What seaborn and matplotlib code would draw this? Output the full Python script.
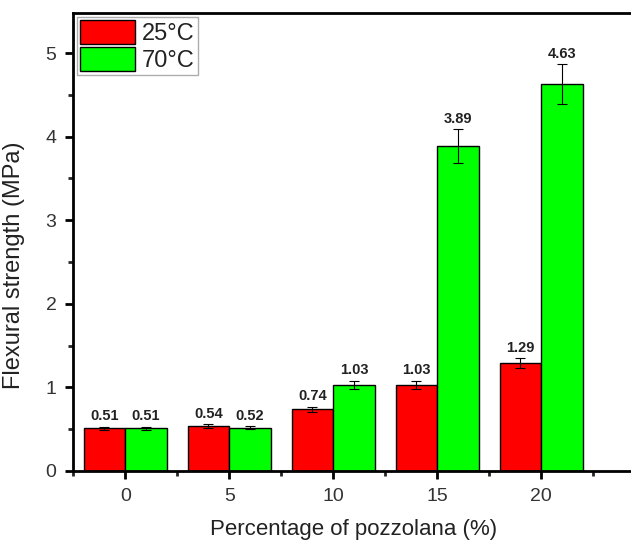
import matplotlib
matplotlib.use("Agg")
import matplotlib.pyplot as plt
import seaborn as sns
import pandas as pd
import numpy as np
from matplotlib.ticker import MultipleLocator, FixedLocator

categories = ["0", "5", "10", "15", "20"]
temps = ["25°C", "70°C"]
vals_25 = [0.51, 0.54, 0.74, 1.03, 1.29]
vals_70 = [0.51, 0.52, 1.03, 3.89, 4.63]
err_25 = [0.02, 0.02, 0.03, 0.05, 0.06]
err_70 = [0.02, 0.02, 0.05, 0.20, 0.24]
colors = ["#ff0000", "#00ff00"]

df = pd.DataFrame({
    "pct": categories * 2,
    "temp": [temps[0]] * 5 + [temps[1]] * 5,
    "val": vals_25 + vals_70,
    "err": err_25 + err_70,
})

sns.set_style("ticks")
plt.rcParams["font.family"] = ["Liberation Sans", "DejaVu Sans"]

fig = plt.figure(figsize=(6.31, 5.42), dpi=100)
ax = fig.add_axes([0.116, 0.131, 0.89, 0.845])

sns.barplot(data=df, x="pct", y="val", hue="temp", palette=colors,
            order=categories, hue_order=temps, width=0.8, saturation=1,
            edgecolor="black", linewidth=1.0, errorbar=None, ax=ax)

for cont, vals, errs in zip(ax.containers, [vals_25, vals_70], [err_25, err_70]):
    xs = [p.get_x() + p.get_width() / 2 for p in cont.patches]
    ax.errorbar(xs, vals, yerr=errs, fmt="none", ecolor="black",
                elinewidth=0.8, capsize=3.5, capthick=0.8, zorder=5)
    for x, v, e in zip(xs, vals, errs):
        ax.text(x, v + e + 0.04, f"{v:.2f}", ha="center", va="bottom",
                fontsize=10.5, fontweight="bold", color="#222222")

ax.set_ylim(0, 5.48)
ax.set_xlim(-0.5, 4.9)
ax.yaxis.set_major_locator(MultipleLocator(1))
ax.yaxis.set_minor_locator(MultipleLocator(0.5))
ax.xaxis.set_minor_locator(FixedLocator([-0.5, 0.5, 1.5, 2.5, 3.5, 4.5]))
ax.tick_params(axis="both", which="major", direction="out", length=6, width=2,
               labelsize=14, colors="black", pad=6)
ax.tick_params(axis="both", which="minor", direction="out", length=3.5, width=2)
ax.tick_params(axis="both", labelcolor="#333333")

for s in ["left", "bottom", "top"]:
    ax.spines[s].set_linewidth(2)
    ax.spines[s].set_color("black")
ax.spines["right"].set_visible(False)
ax.spines["top"].set_visible(True)

ax.set_xlabel("Percentage of pozzolana (%)", fontsize=16, color="#222222", labelpad=10)
ax.set_ylabel("Flexural strength (MPa)", fontsize=17, color="#222222")
ax.yaxis.set_label_coords(-0.085, 0.45)

leg = ax.legend(loc="upper left", fontsize=17, frameon=True, fancybox=False,
                handlelength=2.3, handleheight=1.15, handletextpad=0.3,
                borderpad=0.15, labelspacing=0.1, borderaxespad=0.15)
leg.get_frame().set_edgecolor("#999999")
leg.get_frame().set_linewidth(1)
for t in leg.get_texts():
    t.set_color("#222222")

fig.savefig("out.png", dpi=100, facecolor="white")
